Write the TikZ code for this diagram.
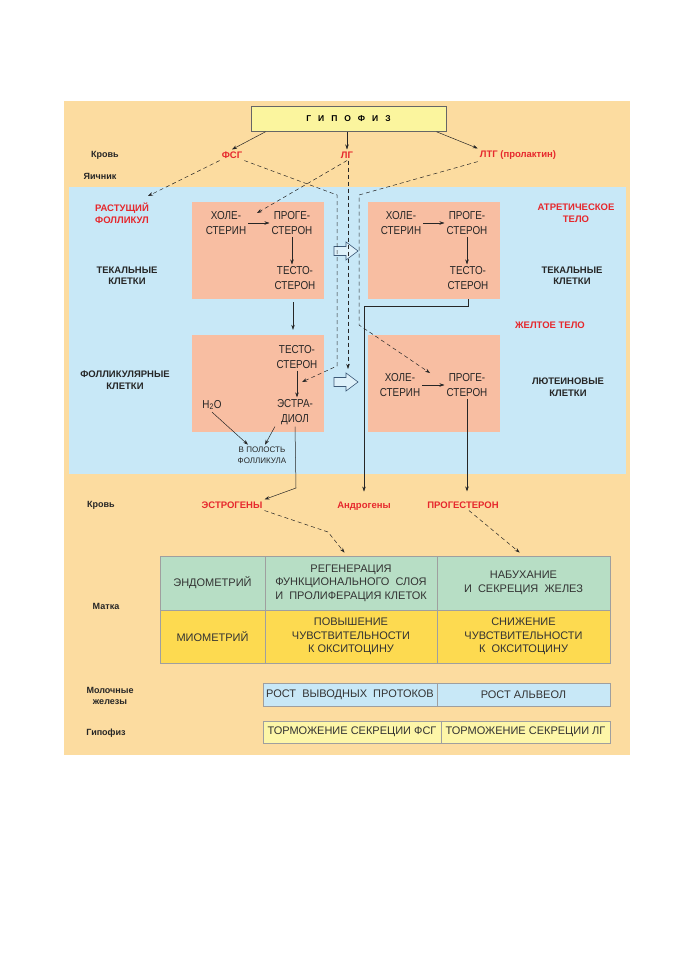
\documentclass[tikz,border=0pt]{standalone}
\usepackage{fontspec}
\setmainfont{Liberation Sans}
\newfontfamily\narrow[FakeStretch=0.86]{Liberation Sans}
\usetikzlibrary{arrows.meta}
\definecolor{bgorange}{HTML}{FCDCA0}
\definecolor{bgblue}{HTML}{C8E8F7}
\definecolor{salmon}{HTML}{F8BEA2}
\definecolor{hypyel}{HTML}{FBF59E}
\definecolor{hred}{HTML}{E6282D}
\definecolor{endogreen}{HTML}{B7DEC5}
\definecolor{myoyellow}{HTML}{FDDA50}
\definecolor{milkblue}{HTML}{C8E8F7}
\definecolor{pityel}{HTML}{FDF6A8}
\definecolor{arrowline}{HTML}{3D5A78}
\tikzset{
  arr/.style = {-{Stealth[length=5pt, width=3.5pt]}, line width=0.5pt, black!85},
  dsh/.style = {arr, dash pattern=on 4pt off 3pt},
  cellbox/.style = {fill=salmon, minimum width=132pt, minimum height=97pt, inner sep=0pt},
  chem/.style = {font=\narrow\fontsize{11.5}{14.5}\selectfont, align=center, inner sep=2pt, text=black!85},
  tag/.style = {font=\bfseries\fontsize{9.5}{11.5}\selectfont, align=center, inner sep=2pt, text=black!85},
  red tag/.style = {tag, text=hred},
  side/.style = {font=\bfseries\fontsize{9}{11}\selectfont, align=center, text=black!85},
  cell/.style = {draw=gray!75, line width=0.5pt, font=\fontsize{11}{13.5}\selectfont, align=center, text=black!80, inner sep=0pt},
  hollow/.style = {draw=arrowline, fill=bgblue!60!white, line width=0.6pt, line join=miter},
}
\begin{document}
\begin{tikzpicture}[x=1pt, y=-1pt]
    \useasboundingbox (0,0) rectangle (678,960);
    \fill [bgorange] (64,101) rectangle (630,755);
    \fill [bgblue] (69,187) rectangle (626,474);
    \node [draw=gray!80!black, line width=0.5pt, fill=hypyel, minimum width=195pt, minimum height=25pt, font=\bfseries\fontsize{8.5}{10}\selectfont] (hyp) at (348.5,119) {Г\hspace{7pt}И\hspace{7pt}П\hspace{7pt}О\hspace{7pt}Ф\hspace{7pt}И\hspace{7pt}З};
    \node [side] (blood1) at (105,155) {Кровь};
    \node [side] (ovary) at (100,176) {Яичник};
    \node [red tag] (fsh) at (232,155) {ФСГ};
    \node [red tag] (lh) at (347,155) {ЛГ};
    \node [red tag] (prl) at (518,155) {ЛТГ (пролактин)};
    \draw [arr] ([xshift=-83pt]hyp.south) -- (fsh.north);
    \draw [arr] (hyp.south -| lh) -- (lh.north);
    \draw [arr] ([xshift=88pt]hyp.south) -- (prl.north west);
    \node [cellbox] (thecaL) at (258,250.5) {};
    \node [cellbox] (follL) at (258,383.5) {};
    \node [cellbox] (thecaR) at (433.5,250.5) {};
    \node [cellbox] (lutR) at (433.5,383) {};
    \node [red tag] (growing) at (122,213) {РАСТУЩИЙ\\ФОЛЛИКУЛ};
    \node [tag] (thecaLtag) at (127,276) {ТЕКАЛЬНЫЕ\\КЛЕТКИ};
    \node [tag] (follLtag) at (125,380) {ФОЛЛИКУЛЯРНЫЕ\\КЛЕТКИ};
    \node [red tag] (atretic) at (576,213) {АТРЕТИЧЕСКОЕ\\ТЕЛО};
    \node [tag] (thecaRtag) at (572,276) {ТЕКАЛЬНЫЕ\\КЛЕТКИ};
    \node [red tag] (yellowbody) at (550,325) {ЖЕЛТОЕ ТЕЛО};
    \node [tag] (lutRtag) at (568,387) {ЛЮТЕИНОВЫЕ\\КЛЕТКИ};
    \node [chem] (cholL) at (226,223) {ХОЛЕ-\\СТЕРИН};
    \node [chem] (progL) at (292,223) {ПРОГЕ-\\СТЕРОН};
    \node [chem] (testL) at (295,278) {ТЕСТО-\\СТЕРОН};
    \node [chem] (testF) at (297,357) {ТЕСТО-\\СТЕРОН};
    \node [chem] (estr) at (295,412) {ЭСТРА-\\ДИОЛ};
    \node [chem] (water) at (212,405) {H\textsubscript{2}O};
    \node [chem, font=\fontsize{8}{10.5}\selectfont] (cavity) at (262,455) {В ПОЛОСТЬ\\ФОЛЛИКУЛА};
    \node [chem] (cholR) at (401,223) {ХОЛЕ-\\СТЕРИН};
    \node [chem] (progR) at (467,223) {ПРОГЕ-\\СТЕРОН};
    \node [chem] (testR) at (468,278) {ТЕСТО-\\СТЕРОН};
    \node [chem] (cholU) at (400,385) {ХОЛЕ-\\СТЕРИН};
    \node [chem] (progU) at (467,385) {ПРОГЕ-\\СТЕРОН};
    \draw [arr] (cholL) -- (progL);
    \draw [arr] (progL.south) -- (progL.south |- testL.north);
    \draw [arr, shorten <=3pt, shorten >=5pt] ([xshift=35pt]thecaL.south) -- ([xshift=35pt]follL.north);
    \draw [arr] (testF.south) -- (testF.south |- estr.north);
    \draw [arr] (water.south) -- ([xshift=-14pt]cavity.north);
    \draw [arr] (estr.south west) -- ([xshift=3pt]cavity.north);
    \draw [arr] (cholR) -- (progR);
    \draw [arr] (progR.south) -- (progR.south |- testR.north);
    \draw [arr] (cholU) -- (progU);
    \foreach \y in {251, 382}
        \draw [hollow] (334, \y-4.5) -- (346, \y-4.5) -- (346, \y-9) -- (358, \y) -- (346, \y+9) -- (346, \y+4.5) -- (334, \y+4.5) -- cycle;
    \coordinate (growin) at (148,196);
    \coordinate (fshdown) at (337,195);
    \coordinate (fshturn) at (337,366);
    \coordinate (fshin) at (302,382);
    \coordinate (lhin) at (257,213);
    \coordinate (lhdown) at (348,369);
    \coordinate (prldown) at (359,195);
    \coordinate (prlturn) at (359,325);
    \coordinate (prlin) at (430,373);
    \draw [dsh] (fsh.south west) -- (growin);
    \draw [dsh] (fsh.south east) -- (fshdown) -- (fshturn) -- (fshin);
    \draw [dsh] (lh.south) -- (lhin);
    \draw [dsh] (lh.south -| lhdown) -- (lhdown);
    \draw [dsh] (prl.south west) -- (prldown) -- (prlturn) -- (prlin);
    \node [side] (blood2) at (101,505) {Кровь};
    \node [red tag] (estrogen) at (232,505) {ЭСТРОГЕНЫ};
    \node [red tag] (androgen) at (364,506) {Андрогены};
    \node [red tag] (progest) at (463,505) {ПРОГЕСТЕРОН};
    \coordinate (ebend) at (296,488);
    \draw [arr] (estr.south) -- (ebend) -- (estrogen.north east);
    \draw [arr, shorten >=8pt] (testR.south |- thecaR.south) -- ++(0,7) -| (androgen.north);
    \draw [arr, shorten >=8pt] (progU.south) -- (progU.south |- progest.north);
    \node [cell, fill=endogreen, minimum width=105pt, minimum height=54pt] (endo) at (212.5,583) {ЭНДОМЕТРИЙ};
    \node [cell, fill=endogreen, minimum width=172pt, minimum height=54pt] (regen) at (351,583) {РЕГЕНЕРАЦИЯ\\ФУНКЦИОНАЛЬНОГО\ \ СЛОЯ\\И\ \ ПРОЛИФЕРАЦИЯ КЛЕТОК};
    \node [cell, fill=endogreen, minimum width=173pt, minimum height=54pt] (swell) at (523.5,583) {НАБУХАНИЕ\\И\ \ СЕКРЕЦИЯ\ \ ЖЕЛЕЗ};
    \node [cell, fill=myoyellow, minimum width=105pt, minimum height=53pt] (myo) at (212.5,636.5) {МИОМЕТРИЙ};
    \node [cell, fill=myoyellow, minimum width=172pt, minimum height=53pt] (raise) at (351,636.5) {ПОВЫШЕНИЕ\\ЧУВСТВИТЕЛЬНОСТИ\\К ОКСИТОЦИНУ};
    \node [cell, fill=myoyellow, minimum width=173pt, minimum height=53pt] (lower) at (523.5,636.5) {СНИЖЕНИЕ\\ЧУВСТВИТЕЛЬНОСТИ\\К\ \ ОКСИТОЦИНУ};
    \coordinate (estturn) at (328,532);
    \draw [dsh, shorten >=4pt] (estrogen.south east) -- (estturn) -- ([xshift=-4pt]regen.north);
    \draw [dsh, shorten >=5pt] ([xshift=6pt]progest.south) -- (swell.north);
    \node [side] (uterus) at (106,606) {Матка};
    \node [cell, fill=milkblue, minimum width=174pt, minimum height=23pt] (ducts) at (350,694.5) {РОСТ\ \ ВЫВОДНЫХ\ \ ПРОТОКОВ};
    \node [cell, fill=milkblue, minimum width=173pt, minimum height=23pt] (alveoli) at (523.5,694.5) {РОСТ АЛЬВЕОЛ};
    \node [side] (breast) at (110,696) {Молочные\\железы};
    \node [cell, fill=pityel, minimum width=178pt, minimum height=22pt] (inhfsh) at (352,732) {ТОРМОЖЕНИЕ СЕКРЕЦИИ ФСГ};
    \node [cell, fill=pityel, minimum width=169pt, minimum height=22pt] (inhlh) at (525.5,732) {ТОРМОЖЕНИЕ СЕКРЕЦИИ ЛГ};
    \node [side] (pit) at (106,733) {Гипофиз};
\end{tikzpicture}
\end{document}
